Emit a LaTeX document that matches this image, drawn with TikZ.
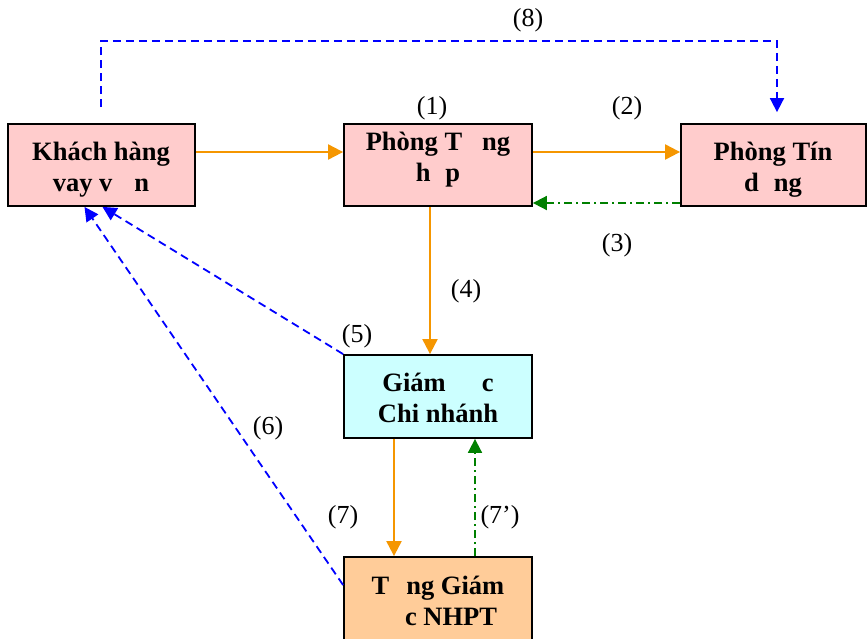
\documentclass[tikz,border=0pt]{standalone}
\usepackage{fontspec}
\setmainfont{Liberation Serif}
\usetikzlibrary{arrows.meta}
\definecolor{boxpink}{RGB}{255,204,204}
\definecolor{boxcyan}{RGB}{204,255,255}
\definecolor{boxpeach}{RGB}{255,204,153}
\definecolor{arrorange}{RGB}{245,150,0}
\definecolor{arrblue}{RGB}{0,0,255}
\definecolor{arrgreen}{RGB}{0,128,0}
\begin{document}
\begin{tikzpicture}[x=1pt,y=-1pt,
  boxbase/.style={draw=black, line width=1.8pt, inner sep=0pt, rectangle},
  txt/.style={font=\fontsize{26.5}{31}\selectfont\bfseries, align=center, inner sep=0pt},
  lab/.style={font=\fontsize{26}{31}\selectfont, inner sep=0pt},
  ora/.style={draw=arrorange, line width=2pt, -{Triangle[length=15pt,width=15pt]}},
  blu/.style={draw=arrblue, line width=1.8pt, dash pattern=on 8pt off 5pt, -{Triangle[length=14pt,width=14pt]}},
  grn/.style={draw=arrgreen, line width=1.8pt, dash pattern=on 8pt off 4pt on 2pt off 4pt, -{Triangle[length=14pt,width=14pt]}}]
\useasboundingbox (0,0) rectangle (867,638);
\clip (0,0) rectangle (867,638);

% boxes
\node[boxbase, fill=boxpink, minimum width=187pt, minimum height=82pt] (kh) at (101.5,165) {};
\node[boxbase, fill=boxpink, minimum width=188pt, minimum height=82pt] (ph) at (438,165) {};
\node[boxbase, fill=boxpink, minimum width=185pt, minimum height=82pt] (pd) at (773.5,165) {};
\node[boxbase, fill=boxcyan, minimum width=188pt, minimum height=83pt] (gd) at (438,396.5) {};
\node[boxbase, fill=boxpeach, minimum width=188pt, minimum height=90pt] (tg) at (438,602) {};

% box texts
\node[txt] (tkh) at (101,170) {Khách hàng\\vay v\hspace{22pt}n};
\node[txt] (tph) at (438,160) {Phòng T\hspace{20pt}ng\\h\hspace{15pt}p};
\node[txt] (tpd) at (773,170) {Phòng Tín\\d\hspace{15pt}ng};
\node[txt] (tgd) at (438,398) {Giám\hspace{36pt}c\\Chi nhánh};
\node[txt] (ttg) at (438,601) {T\hspace{17pt}ng Giám\\\hspace*{26pt}c NHPT};

% labels
\node[lab] (l1) at (432,108) {(1)};
\node[lab] (l2) at (627,108) {(2)};
\node[lab] (l3) at (617,245) {(3)};
\node[lab] (l4) at (466,291) {(4)};
\node[lab] (l5) at (357,336) {(5)};
\node[lab] (l6) at (268,428) {(6)};
\node[lab] (l7) at (343,517) {(7)};
\node[lab] (l7b) at (500,517) {(7’)};
\node[lab] (l8) at (528,20) {(8)};

% connectors
\draw[ora] ([yshift=13pt]kh.east) -- ([yshift=13pt]ph.west);
\draw[ora] ([yshift=13pt]ph.east) -- ([yshift=13pt]pd.west);
\draw[grn] ([yshift=-38pt]pd.west) -- ([yshift=-38pt]ph.east);
\draw[ora] ([xshift=-8pt]ph.south) -- ([xshift=-8pt]gd.north);
\draw[ora] ([xshift=-44pt]gd.south) -- ([xshift=-44pt]tg.north);
\draw[grn] ([xshift=37pt]tg.north) -- ([xshift=37pt]gd.south);
\draw[blu] (gd.north west) -- ([xshift=1pt]kh.south);
\draw[blu] ([yshift=17pt]tg.west) -- ([xshift=-17pt]kh.south);

\coordinate (s8) at ([xshift=-0.6pt,yshift=16pt]kh.north);
\coordinate (e8) at ([xshift=3.5pt,yshift=11pt]pd.north);
\coordinate (top8) at (0,41);
\draw[blu] (s8) -- (s8 |- top8) -- (e8 |- top8) -- (e8);
\end{tikzpicture}
\end{document}
